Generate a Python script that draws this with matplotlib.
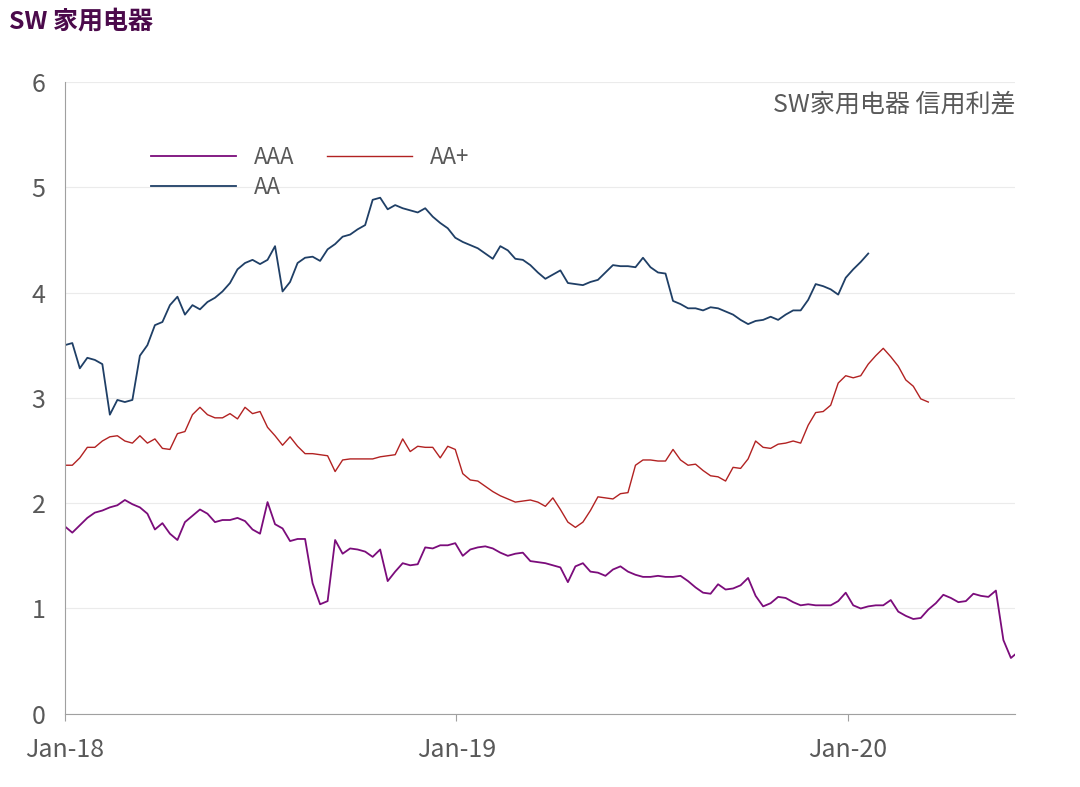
import matplotlib
matplotlib.use("Agg")
import matplotlib.pyplot as plt
import matplotlib.dates as mdates
from matplotlib import font_manager as fm
import pandas as pd

cjk = [f for f in fm.findSystemFonts() if "CJK" in f or "cjk" in f.lower()]
if cjk:
    for f in cjk:
        try:
            fm.fontManager.addfont(f)
        except Exception:
            pass
    cjk_prop = fm.FontProperties(fname=sorted(cjk)[0])
    cjk_name = cjk_prop.get_name()
else:
    cjk_name = "DejaVu Sans"
plt.rcParams['font.family'] = ['sans-serif']
plt.rcParams['font.sans-serif'] = [cjk_name, 'Noto Sans CJK SC', 'Noto Sans CJK JP', 'DejaVu Sans']

aa = [3.50,3.52,3.28,3.38,3.36,3.32,2.84,2.98,2.96,2.98,3.40,3.50,3.69,3.72,3.88,3.96,3.79,3.88,3.84,3.91,3.95,4.01,4.09,4.22,4.28,4.31,4.27,4.31,4.44,4.01,4.10,4.28,4.33,4.34,4.30,4.41,4.46,4.53,4.55,4.60,4.64,4.88,4.90,4.79,4.83,4.80,4.78,4.76,4.80,4.72,4.66,4.61,4.52,4.48,4.45,4.42,4.37,4.32,4.44,4.40,4.32,4.31,4.26,4.19,4.13,4.17,4.21,4.09,4.08,4.07,4.10,4.12,4.19,4.26,4.25,4.25,4.24,4.33,4.24,4.19,4.18,3.92,3.89,3.85,3.85,3.83,3.86,3.85,3.82,3.79,3.74,3.70,3.73,3.74,3.77,3.74,3.79,3.83,3.83,3.93,4.08,4.06,4.03,3.98,4.14,4.22,4.29,4.37]
aa_plus = [2.36,2.36,2.43,2.53,2.53,2.59,2.63,2.64,2.59,2.57,2.64,2.57,2.61,2.52,2.51,2.66,2.68,2.84,2.91,2.84,2.81,2.81,2.85,2.80,2.91,2.85,2.87,2.72,2.64,2.55,2.63,2.54,2.47,2.47,2.46,2.45,2.30,2.41,2.42,2.42,2.42,2.42,2.44,2.45,2.46,2.61,2.49,2.54,2.53,2.53,2.43,2.54,2.51,2.28,2.22,2.21,2.16,2.11,2.07,2.04,2.01,2.02,2.03,2.01,1.97,2.05,1.94,1.82,1.77,1.82,1.93,2.06,2.05,2.04,2.09,2.10,2.36,2.41,2.41,2.40,2.40,2.51,2.41,2.36,2.37,2.31,2.26,2.25,2.21,2.34,2.33,2.42,2.59,2.53,2.52,2.56,2.57,2.59,2.57,2.74,2.86,2.87,2.93,3.14,3.21,3.19,3.21,3.32,3.40,3.47,3.39,3.30,3.17,3.11,2.99,2.96]
aaa = [1.78,1.72,1.79,1.86,1.91,1.93,1.96,1.98,2.03,1.99,1.96,1.90,1.75,1.81,1.71,1.65,1.82,1.88,1.94,1.90,1.82,1.84,1.84,1.86,1.83,1.75,1.71,2.01,1.80,1.76,1.64,1.66,1.66,1.24,1.04,1.07,1.65,1.52,1.57,1.56,1.54,1.49,1.56,1.26,1.35,1.43,1.41,1.42,1.58,1.57,1.60,1.60,1.62,1.50,1.56,1.58,1.59,1.57,1.53,1.50,1.52,1.53,1.45,1.44,1.43,1.41,1.39,1.25,1.40,1.43,1.35,1.34,1.31,1.37,1.40,1.35,1.32,1.30,1.30,1.31,1.30,1.30,1.31,1.26,1.20,1.15,1.14,1.23,1.18,1.19,1.22,1.29,1.12,1.02,1.05,1.11,1.10,1.06,1.03,1.04,1.03,1.03,1.03,1.07,1.15,1.03,1.00,1.02,1.03,1.03,1.08,0.97,0.93,0.90,0.91,0.99,1.05,1.13,1.10,1.06,1.07,1.14,1.12,1.11,1.17,0.70,0.53,0.59]

start = pd.Timestamp("2018-01-01")
def dates(n):
    return pd.date_range(start, periods=n, freq="7D")

fig = plt.figure(figsize=(10.8, 7.87), dpi=100)
ax = fig.add_axes([0.060, 0.093, 0.880, 0.803])
l1, = ax.plot(dates(len(aaa)), aaa, color="#7B0C7B", lw=1.3, label="AAA")
l2, = ax.plot(dates(len(aa_plus)), aa_plus, color="#B22222", lw=1.0, label="AA+")
l3, = ax.plot(dates(len(aa)), aa, color="#1F3F66", lw=1.3, label="AA")

ax.set_ylim(0, 6)
ax.set_xlim(start, pd.Timestamp("2020-06-05"))
ax.set_yticks(range(7))
ax.yaxis.grid(True, color="#EBEBEB", lw=0.8)
ax.set_axisbelow(True)
ax.xaxis.set_major_locator(mdates.YearLocator())
ax.xaxis.set_major_formatter(mdates.DateFormatter("Jan-%y"))
for s in ["top", "right"]:
    ax.spines[s].set_visible(False)
ax.spines["left"].set_color("#A0A0A0")
ax.spines["bottom"].set_color("#A0A0A0")
ax.tick_params(axis="y", length=0, labelsize=18, colors="#595959", pad=14)
ax.tick_params(axis="x", length=5, color="#A0A0A0", labelsize=18, labelcolor="#595959", pad=12)

ax.text(1.0, 0.985, "SW家用电器 信用利差", transform=ax.transAxes, ha="right", va="top",
        fontsize=18, color="#595959")
ax.legend([l1, l3, l2], ["AAA", "AA", "AA+"], loc="upper left", bbox_to_anchor=(0.07, 0.93),
          ncol=2, frameon=False, fontsize=16, handlelength=3.8, columnspacing=1.5,
          labelspacing=0.3, labelcolor="#595959")
fig.text(0.008, 0.972, "SW 家用电器", fontsize=18, fontweight="bold", color="#4B0A4B",
         ha="left", va="center")
fig.savefig("out.png", dpi=100)
